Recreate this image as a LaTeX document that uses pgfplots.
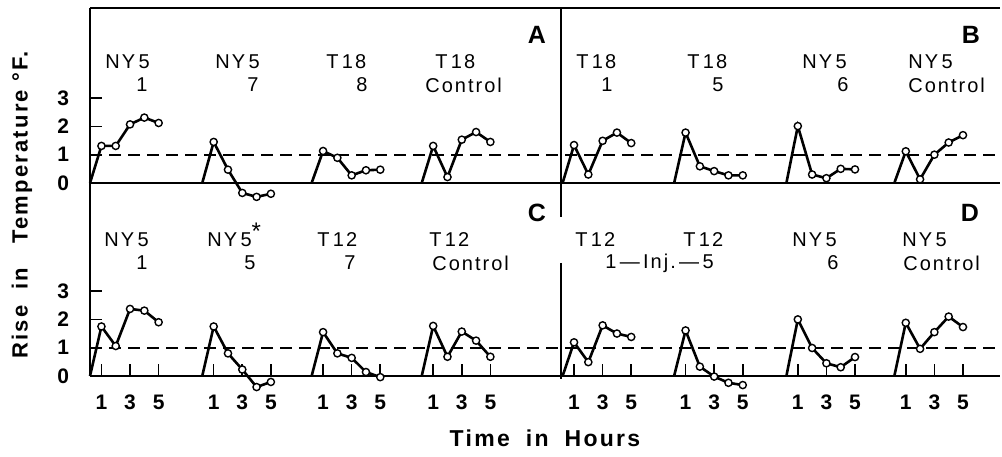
\documentclass[border=0pt]{standalone}
\usepackage{fontspec}
\setmainfont{Liberation Sans}[LetterSpace=10]
\usepackage{pgfplots}
\usepackage{pgfplotstable}
\pgfplotsset{compat=1.18}

% rise in temperature, hours after injection (first row = start of the curve)
\pgfplotstableread{
h   g1    g2     g3    g4
0.2 0     0      0     0
1   1.31  1.45   1.13  1.31
2   1.31  0.47   0.89  0.21
3   2.07  -0.35  0.27  1.53
4   2.31  -0.49  0.45  1.80
5   2.12  -0.38  0.47  1.45
}\tabA
\pgfplotstableread{
h   g1    g2    g3    g4
0.2 0     0     0     0
1   1.34  1.78  2.01  1.12
2   0.30  0.59  0.30  0.13
3   1.49  0.42  0.17  1.00
4   1.78  0.27  0.50  1.43
5   1.41  0.27  0.48  1.69
}\tabB
\pgfplotstableread{
h   g1    g2     g3     g4
0.2 0     0      0      0
1   1.75  1.75   1.55   1.77
2   1.06  0.80   0.80   0.68
3   2.37  0.23   0.64   1.57
4   2.31  -0.39  0.14   1.25
5   1.90  -0.21  -0.04  0.68
}\tabC
\pgfplotstableread{
h   g1    g2     g3    g4
0.2 0     0      0     0
1   1.19  1.61   2.00  1.88
2   0.49  0.33   0.99  0.96
3   1.79  -0.02  0.45  1.55
4   1.50  -0.24  0.31  2.10
5   1.38  -0.32  0.67  1.73
}\tabD

\pgfplotsset{
  run/.style={black, line width=1.3pt, mark=*, mark indices={2,3,4,5,6},
    mark size=1.8pt, mark options={fill=white, line width=0.7pt, solid}},
  norm/.style={black, line width=0.9pt, dash pattern=on 6pt off 3.5pt, no marks},
  panel/.style={scale only axis, width=455pt, xmin=0.2, xmax=63.84, ymin=0,
    axis lines*=left, axis line style={line width=1pt}, clip=false,
    ytick={0,1,2,3}, tick align=inside, major tick length=6pt,
    every tick/.style={black, line width=0.8pt},
    tick label style={font=\bfseries\fontsize{10.5}{11}\selectfont},
    /pgf/number format/assume math mode=true,
    yticklabel style={xshift=-7pt}},
}

\begin{document}
\begin{tikzpicture}
\path (0,0) rectangle (501pt,-228pt);

\begin{axis}[panel, at={(45pt,-4pt)}, anchor=north west, height=87.5pt, ymax=6.18, xtick=\empty]
\addplot[norm] coordinates {(0.2,1) (63.84,1)};
\addplot[run] table[x expr=\thisrow{h}, y=g1] {\tabA};
\addplot[run] table[x expr=\thisrow{h}+7.85, y=g2] {\tabA};
\addplot[run] table[x expr=\thisrow{h}+15.5, y=g3] {\tabA};
\addplot[run] table[x expr=\thisrow{h}+23.2, y=g4] {\tabA};
\addplot[run] table[x expr=\thisrow{h}+33.05, y=g1] {\tabB};
\addplot[run] table[x expr=\thisrow{h}+40.85, y=g2] {\tabB};
\addplot[run] table[x expr=\thisrow{h}+48.7, y=g3] {\tabB};
\addplot[run] table[x expr=\thisrow{h}+56.25, y=g4] {\tabB};
\draw[line width=1pt] (rel axis cs:0,1) -- (rel axis cs:1,1);
\draw[line width=1pt] (axis cs:33.15,6.18) -- (axis cs:33.15,-1.2);
\end{axis}

\begin{axis}[panel, at={(45pt,-91.5pt)}, anchor=north west, height=96.5pt, ymax=6.82,
  xtick={1,3,5,8.85,10.85,12.85,16.5,18.5,20.5,24.2,26.2,28.2,34.05,36.05,38.05,41.85,43.85,45.85,49.7,51.7,53.7,57.25,59.25,61.25},
  xticklabels={1,3,5,1,3,5,1,3,5,1,3,5,1,3,5,1,3,5,1,3,5,1,3,5},
  xticklabel style={yshift=-6pt}]
\addplot[norm] coordinates {(0.2,1) (63.84,1)};
\addplot[run] table[x expr=\thisrow{h}, y=g1] {\tabC};
\addplot[run] table[x expr=\thisrow{h}+7.85, y=g2] {\tabC};
\addplot[run] table[x expr=\thisrow{h}+15.5, y=g3] {\tabC};
\addplot[run] table[x expr=\thisrow{h}+23.2, y=g4] {\tabC};
\addplot[run] table[x expr=\thisrow{h}+33.05, y=g1] {\tabD};
\addplot[run] table[x expr=\thisrow{h}+40.85, y=g2] {\tabD};
\addplot[run] table[x expr=\thisrow{h}+48.7, y=g3] {\tabD};
\addplot[run] table[x expr=\thisrow{h}+56.25, y=g4] {\tabD};
\draw[line width=1pt] (axis cs:33.15,4.0) -- (axis cs:33.15,-0.1);
\end{axis}

\begin{scope}[x=0.5pt, y=-0.5pt, every node/.style={font=\fontsize{10}{11}\selectfont, inner sep=0pt}]
% panel letters
\node[font=\bfseries\fontsize{12.5}{12}\selectfont] at (537,35) {A};
\node[font=\bfseries\fontsize{12.5}{12}\selectfont] at (971,35) {B};
\node[font=\bfseries\fontsize{12.5}{12}\selectfont] at (537,213) {C};
\node[font=\bfseries\fontsize{12.5}{12}\selectfont] at (970,213) {D};
% A
\node[anchor=west] at (105,62) {NY\,5};  \node at (142,85) {1};
\node[anchor=west] at (215,62) {NY\,5};  \node at (253,85) {7};
\node[anchor=west] at (326,62) {T\,18};  \node at (362,85) {8};
\node[anchor=west] at (435,62) {T\,18};  \node[anchor=west] at (425,85) {Control};
% B
\node[anchor=west] at (576,62) {T\,18};  \node at (607,85) {1};
\node[anchor=west] at (687,62) {T\,18};  \node at (718,85) {5};
\node[anchor=west] at (802,62) {NY\,5};  \node at (843,85) {6};
\node[anchor=west] at (908,62) {NY\,5};  \node[anchor=west] at (908,85) {Control};
% C
\node[anchor=west] at (104,240) {NY\,5};  \node at (142,263) {1};
\node[anchor=west] at (207,240) {NY\,5\smash{\raisebox{0.7ex}{\fontsize{12}{12}\selectfont *}}};  \node at (250,263) {5};
\node[anchor=west] at (317,240) {T\,12};  \node at (350,263) {7};
\node[anchor=west] at (429,240) {T\,12};  \node[anchor=west] at (432,263) {Control};
% D
\node[anchor=west] at (575,240) {T\,12};
\node[anchor=west] at (683,240) {T\,12};  \node[anchor=west] at (605,263) {1\,—\,Inj.\,—\,5};
\node[anchor=west] at (792,240) {NY\,5};  \node at (833,263) {6};
\node[anchor=west] at (902,240) {NY\,5};  \node[anchor=west] at (903,263) {Control};
% axis titles
\node[rotate=90, font=\bfseries\fontsize{11}{12}\selectfont] at (22,205) {Rise\hspace{8pt}in\hspace{12pt}Temperature\hspace{4pt}°F.};
\node[font=\bfseries\fontsize{11.5}{12}\selectfont] at (545,438) {Time\hspace{8pt}in\hspace{8pt}Hours};
\end{scope}
\end{tikzpicture}
\end{document}
